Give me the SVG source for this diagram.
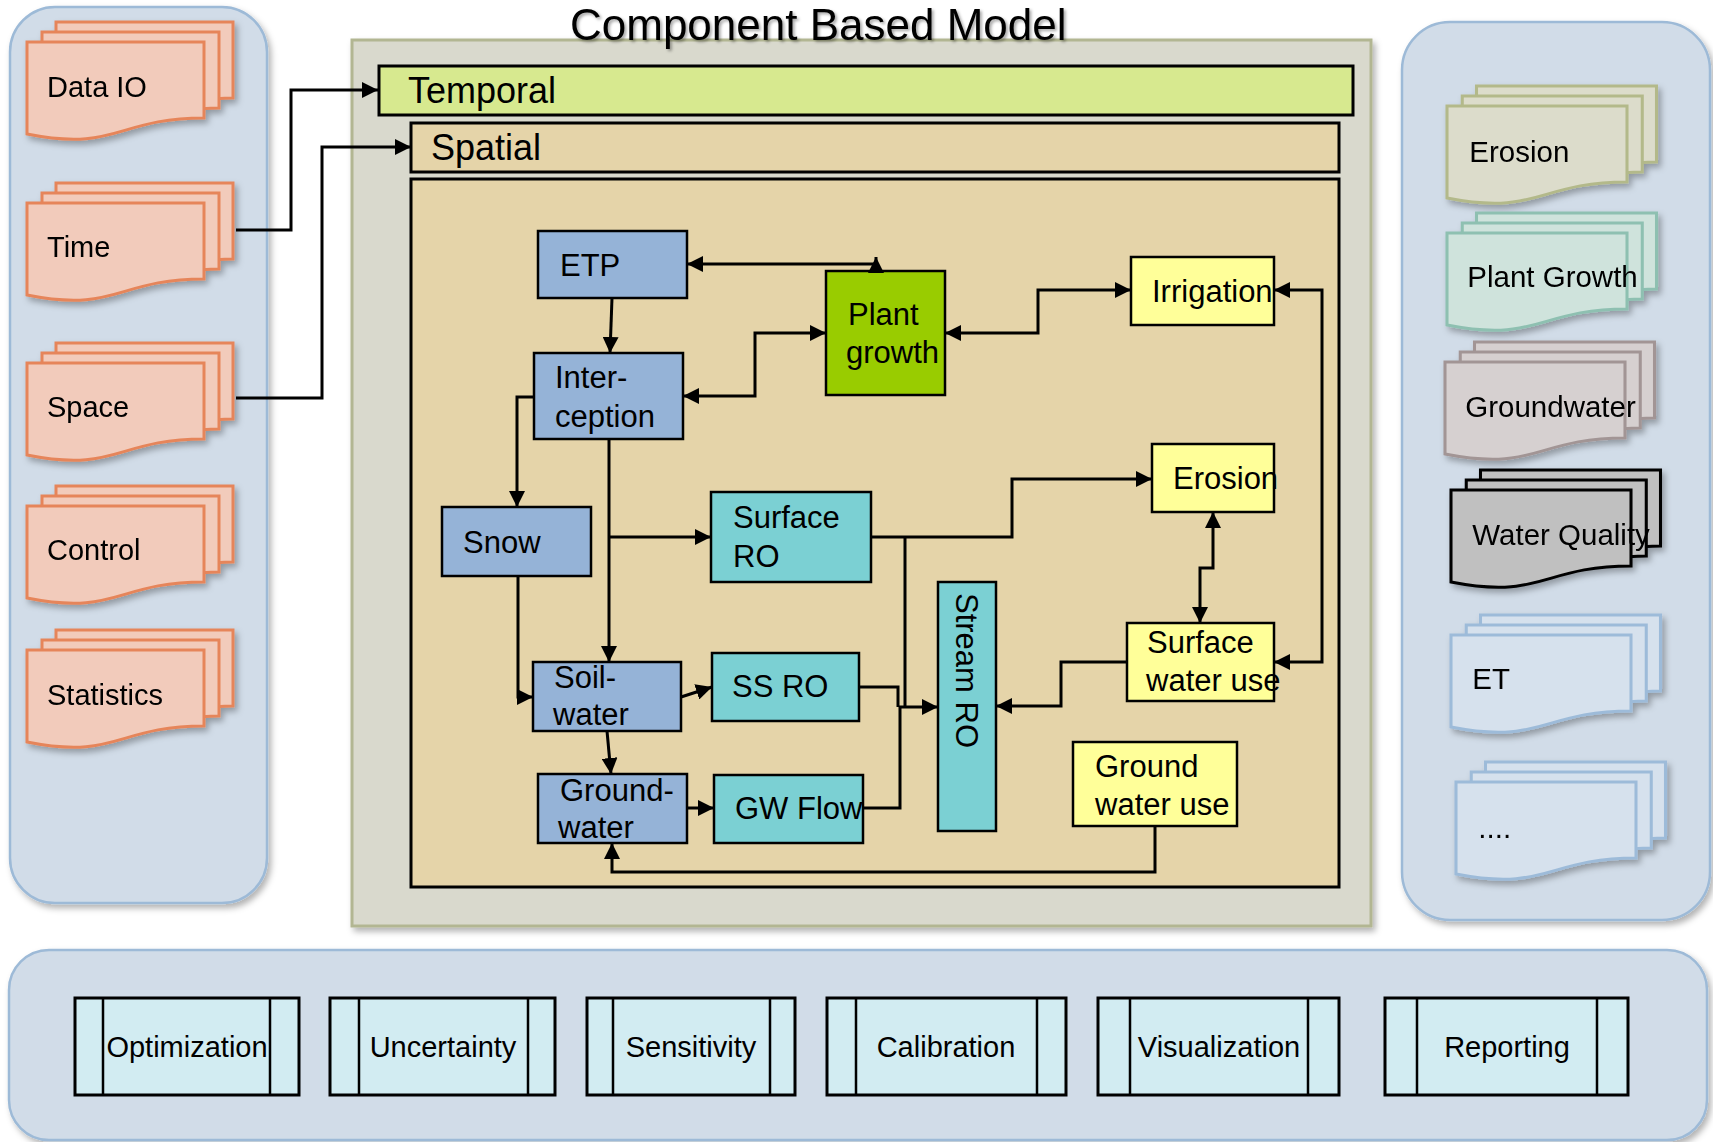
<svg xmlns="http://www.w3.org/2000/svg" width="1713" height="1142" viewBox="0 0 1713 1142">
  <defs>
    <style>
      text { font-family: "Liberation Sans", Arial, sans-serif; fill: #000; }
      .panel { fill: #d1dce8; stroke: #9dbad7; stroke-width: 2.5; }
      .box { stroke: #000; stroke-width: 2.5; }
      .blue { fill: #95b3d7; }
      .cyan { fill: #7bd0d3; }
      .yellow { fill: #ffff99; }
      .green { fill: #99cc00; }
      .t31 { font-size: 31px; }
      .t29 { font-size: 29px; }
      .tool { fill: #d2ecf2; stroke: #000; stroke-width: 3; }
      .tool-line { stroke: #000; stroke-width: 2.5; }
      .conn path { fill: none; stroke: #000; stroke-width: 3; }
      .orange { fill: #f2cbbb; stroke: #e6855a; stroke-width: 3; }
      .olive { fill: #dcdccb; stroke: #b3b98a; stroke-width: 3; }
      .teal { fill: #cfe3dc; stroke: #8ec0b1; stroke-width: 3; }
      .rose { fill: #d6d0d0; stroke: #a29595; stroke-width: 3; }
      .dark { fill: #c0c0c0; stroke: #000; stroke-width: 3; }
      .pale { fill: #d6e1ed; stroke: #9dbbd9; stroke-width: 3; }
    </style>
    <marker id="ah" viewBox="0 0 10 10" refX="10" refY="5" markerWidth="16" markerHeight="16" markerUnits="userSpaceOnUse" orient="auto-start-reverse">
      <path d="M0,0 L10,5 L0,10 z" fill="#000"/>
    </marker>
    <filter id="shadow" x="-10%" y="-10%" width="130%" height="130%">
      <feDropShadow dx="3" dy="4" stdDeviation="3" flood-color="#000" flood-opacity="0.3"/>
    </filter>
    <filter id="tshadow" x="-5%" y="-50%" width="110%" height="200%">
      <feDropShadow dx="2" dy="2" stdDeviation="1.5" flood-color="#000" flood-opacity="0.35"/>
    </filter>
    <!-- stacked document sheet, front sheet at origin, width 177 -->
    <g id="sheets">
      <path id="sh3" d="M29,-20 H206 V56 C192,56 176,58 160,60 L29,60 Z"/>
      <path id="sh2" d="M15,-10 H192 V66 C178,66 162,68 146,70 L15,70 Z"/>
      <path id="sh1" d="M0,0 H177 V76 C90,76 90,110 0,92 Z"/>
    </g>
  </defs>

  <rect width="1713" height="1142" fill="#ffffff"/>

  <!-- left library panel -->
  <g id="left-panel">
    <rect class="panel" x="10" y="7" width="257" height="896" rx="45" filter="url(#shadow)"/>
    <g id="data-io" class="orange" transform="translate(27,42)" filter="url(#shadow)">
      <use href="#sh3"/><use href="#sh2"/><use href="#sh1"/>
      <text class="t29" x="20" y="55" stroke="none">Data IO</text>
    </g>
    <g id="time" class="orange" transform="translate(27,203)" filter="url(#shadow)">
      <use href="#sh3"/><use href="#sh2"/><use href="#sh1"/>
      <text class="t29" x="20" y="54" stroke="none">Time</text>
    </g>
    <g id="space" class="orange" transform="translate(27,363)" filter="url(#shadow)">
      <use href="#sh3"/><use href="#sh2"/><use href="#sh1"/>
      <text class="t29" x="20" y="54" stroke="none">Space</text>
    </g>
    <g id="control" class="orange" transform="translate(27,506)" filter="url(#shadow)">
      <use href="#sh3"/><use href="#sh2"/><use href="#sh1"/>
      <text class="t29" x="20" y="54" stroke="none">Control</text>
    </g>
    <g id="statistics" class="orange" transform="translate(27,650)" filter="url(#shadow)">
      <use href="#sh3"/><use href="#sh2"/><use href="#sh1"/>
      <text class="t29" x="20" y="55" stroke="none">Statistics</text>
    </g>
  </g>

  <!-- right library panel -->
  <g id="right-panel">
    <rect class="panel" x="1402" y="22" width="308" height="898" rx="48" filter="url(#shadow)"/>
    <g id="lib-erosion" class="olive" transform="translate(1447,106) scale(1.017,1)" filter="url(#shadow)">
      <use href="#sh3"/><use href="#sh2"/><use href="#sh1"/>
      <text class="t29" x="22" y="56" stroke="none">Erosion</text>
    </g>
    <g id="lib-plant-growth" class="teal" transform="translate(1447,233) scale(1.017,1)" filter="url(#shadow)">
      <use href="#sh3"/><use href="#sh2"/><use href="#sh1"/>
      <text class="t29" x="20" y="54" stroke="none">Plant Growth</text>
    </g>
    <g id="lib-groundwater" class="rose" transform="translate(1445,362) scale(1.017,1)" filter="url(#shadow)">
      <use href="#sh3"/><use href="#sh2"/><use href="#sh1"/>
      <text class="t29" x="20" y="55" stroke="none">Groundwater</text>
    </g>
    <g id="lib-water-quality" class="dark" transform="translate(1451,490) scale(1.017,1)" filter="url(#shadow)">
      <use href="#sh3"/><use href="#sh2"/><use href="#sh1"/>
      <text class="t29" x="21" y="55" stroke="none">Water Quality</text>
    </g>
    <g id="lib-et" class="pale" transform="translate(1451,635) scale(1.017,1)" filter="url(#shadow)">
      <use href="#sh3"/><use href="#sh2"/><use href="#sh1"/>
      <text class="t29" x="21" y="54" stroke="none">ET</text>
    </g>
    <g id="lib-more" class="pale" transform="translate(1456,782) scale(1.017,1)" filter="url(#shadow)">
      <use href="#sh3"/><use href="#sh2"/><use href="#sh1"/>
      <text class="t29" x="22" y="56" stroke="none">....</text>
    </g>
  </g>

  <!-- model frame -->
  <g id="model">
    <rect x="352" y="40" width="1019" height="886" fill="#d9d9cd" stroke="#b2b692" stroke-width="3" filter="url(#shadow)"/>
    <g id="temporal">
      <rect x="379" y="66" width="974" height="49" fill="#d7e98f" stroke="#000" stroke-width="3"/>
      <text x="408" y="103" font-size="36">Temporal</text>
    </g>
    <g id="spatial">
      <rect x="411" y="123" width="928" height="49" fill="#e5d4a9" stroke="#000" stroke-width="3"/>
      <text x="431" y="160" font-size="36">Spatial</text>
    </g>
    <rect id="process-area" x="411" y="179" width="928" height="708" fill="#e5d4a9" stroke="#000" stroke-width="3"/>
  </g>

  <!-- title -->
  <text x="570" y="40" font-size="44" filter="url(#tshadow)">Component Based Model</text>

  <!-- process components -->
  <g id="etp"><rect class="box blue" x="538" y="231" width="149" height="67"/><text class="t31" x="560" y="276">ETP</text></g>
  <g id="interception"><rect class="box blue" x="534" y="353" width="149" height="86"/><text class="t31" x="555" y="388">Inter-</text><text class="t31" x="555" y="427">ception</text></g>
  <g id="plant-growth"><rect class="box green" x="826" y="271" width="119" height="124"/><text class="t31" x="848" y="325">Plant</text><text class="t31" x="846" y="363">growth</text></g>
  <g id="snow"><rect class="box blue" x="442" y="507" width="149" height="69"/><text class="t31" x="463" y="553">Snow</text></g>
  <g id="surface-ro"><rect class="box cyan" x="711" y="492" width="160" height="90"/><text class="t31" x="733" y="528">Surface</text><text class="t31" x="733" y="567">RO</text></g>
  <g id="soil-water"><rect class="box blue" x="533" y="662" width="148" height="69"/><text class="t31" x="554" y="688">Soil-</text><text class="t31" x="553" y="725">water</text></g>
  <g id="ss-ro"><rect class="box cyan" x="712" y="653" width="147" height="68"/><text class="t31" x="732" y="697">SS RO</text></g>
  <g id="groundwater"><rect class="box blue" x="538" y="774" width="149" height="69"/><text class="t31" x="560" y="801">Ground-</text><text class="t31" x="558" y="838">water</text></g>
  <g id="gw-flow"><rect class="box cyan" x="714" y="775" width="149" height="68"/><text class="t31" x="735" y="819">GW Flow</text></g>
  <g id="stream-ro"><rect class="box cyan" x="938" y="582" width="58" height="249"/><text class="t31" transform="translate(956,593) rotate(90)">Stream RO</text></g>
  <g id="irrigation"><rect class="box yellow" x="1131" y="257" width="143" height="68"/><text class="t31" x="1152" y="302">Irrigation</text></g>
  <g id="erosion"><rect class="box yellow" x="1152" y="444" width="122" height="68"/><text class="t31" x="1173" y="489">Erosion</text></g>
  <g id="surface-water-use"><rect class="box yellow" x="1127" y="623" width="147" height="78"/><text class="t31" x="1147" y="653">Surface</text><text class="t31" x="1146" y="691">water use</text></g>
  <g id="ground-water-use"><rect class="box yellow" x="1073" y="742" width="164" height="84"/><text class="t31" x="1095" y="777">Ground</text><text class="t31" x="1095" y="815">water use</text></g>

  <!-- connectors -->
  <g id="connectors" class="conn">
    <path d="M236,230 H291 V90 H378" marker-end="url(#ah)"/>
    <path d="M236,398 H322 V147 H411" marker-end="url(#ah)"/>
    <path d="M876,264 H687" marker-end="url(#ah)"/>
    <path d="M876,271 V257" marker-end="url(#ah)"/>
    <path d="M612,298 L610,353" marker-end="url(#ah)"/>
    <path d="M683,396 H755 V333 H826" marker-start="url(#ah)" marker-end="url(#ah)"/>
    <path d="M945,333 H1038 V290 H1131" marker-start="url(#ah)" marker-end="url(#ah)"/>
    <path d="M1274,290 H1322 V662 H1274" marker-start="url(#ah)" marker-end="url(#ah)"/>
    <path d="M534,397 H517 V507" marker-end="url(#ah)"/>
    <path d="M609,439 V662" marker-end="url(#ah)"/>
    <path d="M609,537 H711" marker-end="url(#ah)"/>
    <path d="M518,576 V697 H533" marker-end="url(#ah)"/>
    <path d="M681,697 L712,687" marker-end="url(#ah)"/>
    <path d="M607,731 L611,774" marker-end="url(#ah)"/>
    <path d="M687,808 H714" marker-end="url(#ah)"/>
    <path d="M863,808 H900 V707 H938" marker-end="url(#ah)"/>
    <path d="M859,687 H898 V707"/>
    <path d="M871,537 H1012 V479 H1152" marker-end="url(#ah)"/>
    <path d="M905,537 V707"/>
    <path d="M1213,512 V568 H1200 V623" marker-start="url(#ah)" marker-end="url(#ah)"/>
    <path d="M1127,662 H1061 V706 H996" marker-end="url(#ah)"/>
    <path d="M1155,826 V872 H612 V843" marker-end="url(#ah)"/>
  </g>

  <!-- analysis tools panel -->
  <g id="tools-panel">
    <rect class="panel" x="9" y="950" width="1698" height="190" rx="40" filter="url(#shadow)"/>
    <g id="optimization"><rect class="tool" x="75" y="998" width="224" height="97"/><path class="tool-line" d="M103,998 V1095 M270,998 V1095"/><text class="t29" x="187" y="1057" text-anchor="middle">Optimization</text></g>
    <g id="uncertainty"><rect class="tool" x="330" y="998" width="225" height="97"/><path class="tool-line" d="M359,998 V1095 M528,998 V1095"/><text class="t29" x="443" y="1057" text-anchor="middle">Uncertainty</text></g>
    <g id="sensitivity"><rect class="tool" x="587" y="998" width="208" height="97"/><path class="tool-line" d="M613,998 V1095 M770,998 V1095"/><text class="t29" x="691" y="1057" text-anchor="middle">Sensitivity</text></g>
    <g id="calibration"><rect class="tool" x="827" y="998" width="239" height="97"/><path class="tool-line" d="M856,998 V1095 M1037,998 V1095"/><text class="t29" x="946" y="1057" text-anchor="middle">Calibration</text></g>
    <g id="visualization"><rect class="tool" x="1098" y="998" width="241" height="97"/><path class="tool-line" d="M1130,998 V1095 M1308,998 V1095"/><text class="t29" x="1219" y="1057" text-anchor="middle">Visualization</text></g>
    <g id="reporting"><rect class="tool" x="1385" y="998" width="243" height="97"/><path class="tool-line" d="M1417,998 V1095 M1597,998 V1095"/><text class="t29" x="1507" y="1057" text-anchor="middle">Reporting</text></g>
  </g>
</svg>
